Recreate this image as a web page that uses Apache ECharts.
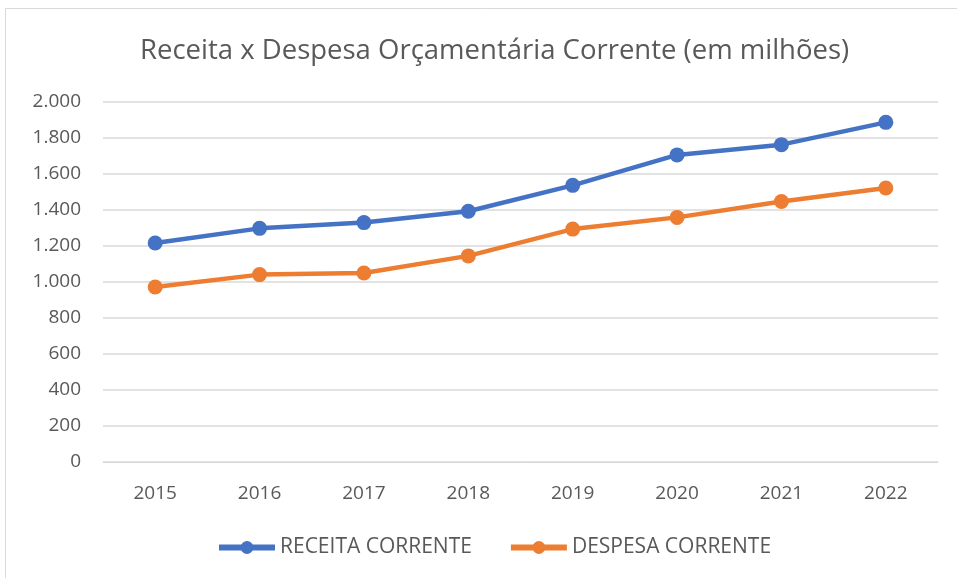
<!DOCTYPE html>
<html>
<head>
<meta charset="utf-8">
<script src="https://cdn.jsdelivr.net/npm/echarts@6/dist/echarts.min.js"></script>
<style>
  html, body { margin: 0; padding: 0; background: #fff; }
  #chart { width: 957px; height: 578px; }
</style>
</head>
<body>
<div id="chart"></div>
<script>
const anos = ['2015', '2016', '2017', '2018', '2019', '2020', '2021', '2022']
const receitaCorrente = [1217, 1298, 1330, 1393, 1537, 1706, 1763, 1887]
const despesaCorrente = [972, 1041, 1050, 1145, 1294, 1359, 1447, 1522]

const fonte = "'Open Sans', sans-serif"
const cinza = '#595959'

const chart = echarts.init(document.getElementById('chart'))
const option = {
  backgroundColor: '#fff',
  textStyle: { fontFamily: fonte },
  title: {
    text: 'Receita x Despesa Orçamentária Corrente (em milhões)',
    left: 135,
    top: 32,
    textStyle: { fontFamily: fonte, fontSize: 27.5, fontWeight: 'normal', color: cinza }
  },
  graphic: [{
    type: 'rect',
    shape: { x: 5.5, y: 8.5, width: 960, height: 580 },
    style: { fill: 'none', stroke: '#d9d9d9', lineWidth: 1 }
  }],
  legend: {
    bottom: 15,
    left: 211,
    itemWidth: 56,
    itemHeight: 16,
    itemGap: 36,
    lineStyle: { width: 6 },
    textStyle: { fontFamily: fonte, fontSize: 21, color: cinza },
    data: ['RECEITA CORRENTE', 'DESPESA CORRENTE']
  },
  grid: { left: 103, right: 19, top: 102, bottom: 116, containLabel: false },
  xAxis: {
    type: 'category',
    data: anos,
    axisLine: { lineStyle: { color: '#d9d9d9', width: 1 } },
    axisTick: { show: false },
    axisLabel: { fontFamily: fonte, fontSize: 19, color: cinza, margin: 22 }
  },
  yAxis: {
    type: 'value',
    min: 0,
    max: 2000,
    interval: 200,
    axisLine: { show: false },
    axisTick: { show: false },
    splitLine: { lineStyle: { color: '#d9d9d9', width: 1.5 } },
    axisLabel: {
      fontFamily: fonte, fontSize: 19, color: cinza, margin: 22,
      formatter: v => v >= 1000 ? Math.floor(v / 1000) + '.' + String(v % 1000).padStart(3, '0') : String(v)
    }
  },
  series: [
    {
      name: 'RECEITA CORRENTE',
      type: 'line',
      data: receitaCorrente,
      symbol: 'circle',
      symbolSize: 15,
      color: '#4472C4',
      lineStyle: { width: 4.5, color: '#4472C4' },
      itemStyle: { color: '#4472C4' }
    },
    {
      name: 'DESPESA CORRENTE',
      type: 'line',
      data: despesaCorrente,
      symbol: 'circle',
      symbolSize: 15,
      color: '#ED7D31',
      lineStyle: { width: 4.5, color: '#ED7D31' },
      itemStyle: { color: '#ED7D31' }
    }
  ]
}
chart.setOption(option)
</script>
</body>
</html>
